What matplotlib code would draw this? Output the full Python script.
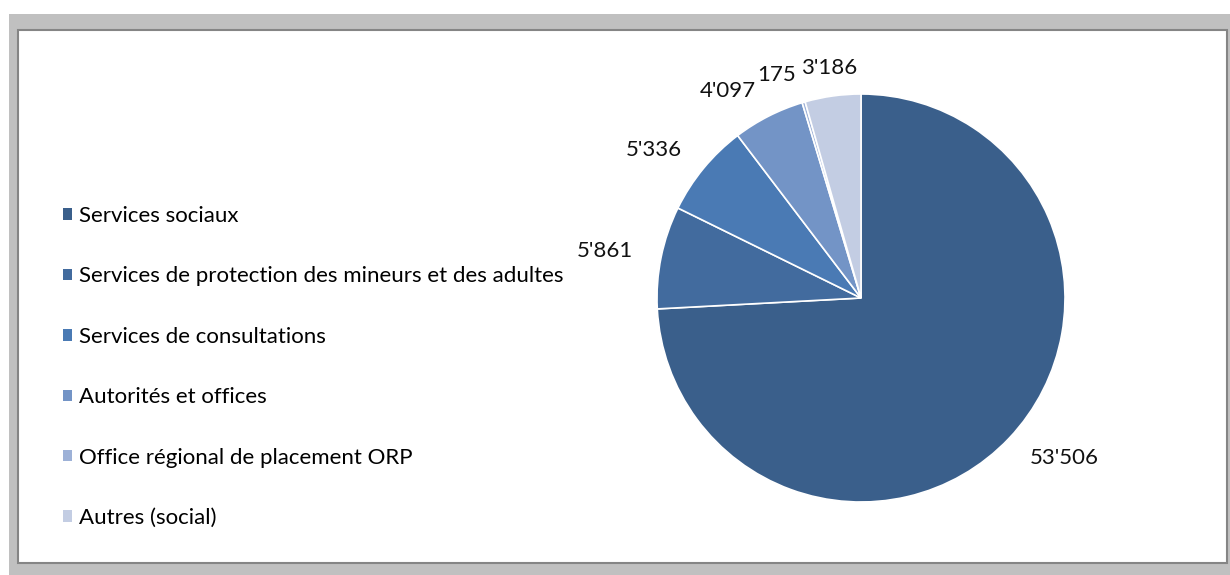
import numpy as np
import matplotlib.pyplot as plt
from matplotlib.patches import Rectangle, Patch

plt.rcParams['font.family'] = ['Lato', 'DejaVu Sans']

categories = ['Services sociaux',
              'Services de protection des mineurs et des adultes',
              'Services de consultations',
              'Autorités et offices',
              'Office régional de placement ORP',
              'Autres (social)']
values = [53506, 5861, 5336, 4097, 175, 3186]
value_labels = ["53'506", "5'861", "5'336", "4'097", "175", "3'186"]
colors = ['#3A5F8B', '#426B9E', '#4A7AB4', '#7394C6', '#9DB1D7', '#C3CDE3']

W, H = 1230, 575
fig = plt.figure(figsize=(W / 100, H / 100), dpi=100)
fig.patch.set_facecolor('white')


def px(x0, y0, x1, y1):
    # pixel box (top-left origin) -> figure fraction
    return (x0 / W, 1 - y1 / H), (x1 - x0) / W, (y1 - y0) / H


xy, w, h = px(9, 14, 1230, 575)
fig.patches.append(Rectangle(xy, w, h, transform=fig.transFigure,
                             facecolor='#c0c0c0', edgecolor='none', zorder=0))
xy, w, h = px(18, 30, 1227, 563)
fig.patches.append(Rectangle(xy, w, h, transform=fig.transFigure,
                             facecolor='white', edgecolor='#858585', lw=1.5, zorder=1))

# pie: centre (861, 298), radius 204 px
R = 204
half = 250
ax = fig.add_axes([(861 - half) / W, (H - 298 - half) / H, 2 * half / W, 2 * half / H])
ax.set_zorder(3)

wedges, texts = ax.pie(values, colors=colors, startangle=90, counterclock=False,
                       labels=value_labels, labeldistance=1.14,
                       wedgeprops=dict(edgecolor='white', linewidth=1.2),
                       textprops=dict(fontsize=16, color='#111111'))
texts[-1].set_ha('center')
ax.set_xlim(-half / R, half / R)
ax.set_ylim(-half / R, half / R)
ax.set_aspect('equal')
ax.axis('off')

handles = [Patch(facecolor=c, edgecolor='none') for c in colors]
leg = fig.legend(handles, categories, loc='upper left', bbox_to_anchor=(54 / W, 1 - 197 / H),
                 frameon=False, fontsize=16, handlelength=0.42, handleheight=0.42,
                 handletextpad=0.32, labelspacing=1.82, borderaxespad=0)
leg.set_zorder(4)

fig.savefig('out.png', dpi=100)
